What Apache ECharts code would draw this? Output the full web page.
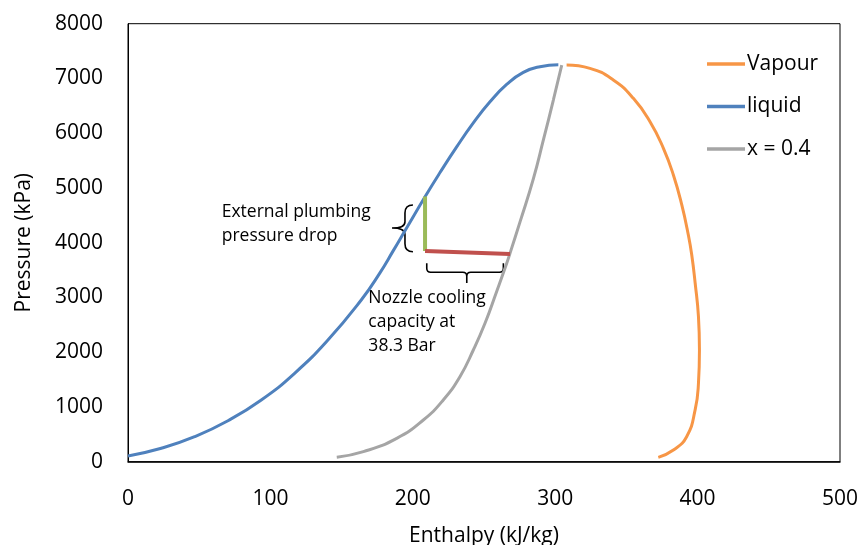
<!DOCTYPE html>
<html>
<head>
<meta charset="utf-8">
<script src="https://cdn.jsdelivr.net/npm/echarts@6/dist/echarts.min.js"></script>
<style>
  html, body { margin: 0; padding: 0; background: #fff; }
  #chart { width: 863px; height: 545px; }
</style>
</head>
<body>
<div id="chart"></div>
<script>
// Saturation dome of the refrigerant on a pressure–enthalpy plane
// [enthalpy kJ/kg, pressure kPa]
const vapourCurve = [
  [308, 7245], [324.4, 7185], [340.8, 6972], [354.9, 6637], [366.6, 6210],
  [376, 5724], [383, 5237], [388.9, 4689], [393.5, 4141], [395.9, 3775],
  [398.3, 3259], [400.6, 2649], [401.3, 2040], [400.6, 1432], [398.3, 950],
  [392.3, 457], [383, 214], [372.4, 80]
];
const liquidCurve = [
  [0, 104], [23.4, 245], [46.8, 457], [70.2, 749], [93.6, 1127], [117, 1615],
  [140.4, 2223], [163.8, 2954], [176.7, 3440], [186.3, 3855], [194.5, 4218],
  [208.6, 4840], [219.1, 5281], [230.8, 5749], [242.5, 6188], [254.2, 6574],
  [265.9, 6890], [277.6, 7112], [289.3, 7215], [302.2, 7250]
];
const qualityCurve = [
  [146.6, 80], [165.3, 183], [188.7, 427], [207.4, 762], [221.4, 1127],
  [233.1, 1553], [242.5, 2040], [250.7, 2528], [258.9, 3110], [265.9, 3620],
  [268.3, 3810], [275.3, 4380], [284.6, 5160], [291.7, 5876], [298.7, 6606],
  [304.6, 7245]
];

// Process lines: pressure drop in the plumbing, then evaporation in the nozzle
const plumbingDrop = [[208.6, 3848], [208.6, 4844]];
const nozzleCooling = [[208.6, 3848], [268.3, 3794]];

// Brace annotations (data space)
const leftBrace = { end: 200.1, spine: 194.5, tip: 185.4, top: 4689, mid: 4268, bottom: 3836 };
const bottomBrace = { end: 3624, spine: 3459, tip: 3264, left: 209.8, mid: 237.9, right: 263.6 };

const notes = [
  { h: 65.8, p: 4780, text: 'External plumbing\npressure drop' },
  { h: 168.8, p: 3205, text: 'Nozzle cooling\ncapacity at\n38.3 Bar' }
];

const seriesNames = ['Vapour', 'liquid', 'x = 0.4'];
const xTicks = { min: 0, max: 500, interval: 100 };
const yTicks = { min: 0, max: 8000, interval: 1000 };

const FONT = '"Open Sans", "Noto Sans", sans-serif';

function leftBracePath(api) {
  const b = leftBrace;
  const e = api.coord([b.end, b.top]);
  const s = api.coord([b.spine, b.mid]);
  const t = api.coord([b.tip, b.mid]);
  const eb = api.coord([b.end, b.bottom]);
  const xs = s[0], r = e[0] - xs;
  const yt = e[1], ym = s[1], yb = eb[1];
  return 'M' + e[0] + ' ' + yt +
    ' Q' + xs + ' ' + yt + ' ' + xs + ' ' + (yt + r) +
    ' L' + xs + ' ' + (ym - r * 0.8) +
    ' Q' + xs + ' ' + ym + ' ' + t[0] + ' ' + ym +
    ' Q' + xs + ' ' + ym + ' ' + xs + ' ' + (ym + r * 0.8) +
    ' L' + xs + ' ' + (yb - r) +
    ' Q' + xs + ' ' + yb + ' ' + e[0] + ' ' + yb;
}

function bottomBracePath(api) {
  const b = bottomBrace;
  const l = api.coord([b.left, b.end]);
  const m = api.coord([b.mid, b.spine]);
  const t = api.coord([b.mid, b.tip]);
  const rr = api.coord([b.right, b.end]);
  const ys = m[1], r = 4;
  return 'M' + l[0] + ' ' + l[1] +
    ' L' + l[0] + ' ' + (ys - r) +
    ' Q' + l[0] + ' ' + ys + ' ' + (l[0] + r) + ' ' + ys +
    ' L' + (m[0] - r) + ' ' + ys +
    ' Q' + m[0] + ' ' + ys + ' ' + m[0] + ' ' + (ys + r) +
    ' L' + t[0] + ' ' + t[1] +
    ' M' + m[0] + ' ' + (ys + r) +
    ' Q' + m[0] + ' ' + ys + ' ' + (m[0] + r) + ' ' + ys +
    ' L' + (rr[0] - r) + ' ' + ys +
    ' Q' + rr[0] + ' ' + ys + ' ' + rr[0] + ' ' + (ys - r) +
    ' L' + rr[0] + ' ' + rr[1];
}

const chart = echarts.init(document.getElementById('chart'), null, { renderer: 'canvas' });

const curveStyle = (color) => ({ color: color, width: 3 });
const plainNumber = (v) => String(v);

chart.setOption({
  animation: false,
  backgroundColor: '#fff',
  textStyle: { fontFamily: FONT },
  grid: {
    left: 128, right: 23, top: 23.7, bottom: 83.3,
    containLabel: false,
    outerBoundsMode: 'none',
    show: true, borderColor: '#000', borderWidth: 1, backgroundColor: 'transparent'
  },
  legend: {
    data: seriesNames,
    orient: 'vertical',
    left: 702,
    top: 47,
    icon: 'rect',
    itemWidth: 38,
    itemHeight: 3.5,
    itemGap: 18.5,
    textStyle: { fontSize: 21, color: '#000', fontFamily: FONT, lineHeight: 24, padding: [0, 0, 0, -3] }
  },
  xAxis: {
    type: 'value',
    min: xTicks.min, max: xTicks.max, interval: xTicks.interval,
    name: 'Enthalpy (kJ/kg)',
    nameLocation: 'middle',
    nameGap: 64,
    nameTextStyle: { fontSize: 21, color: '#000', fontFamily: FONT },
    axisLine: { show: true, lineStyle: { color: '#000', width: 1.5 } },
    axisTick: { show: false },
    splitLine: { show: false },
    axisLabel: { fontSize: 21, color: '#000', margin: 27, fontFamily: FONT, formatter: plainNumber }
  },
  yAxis: {
    type: 'value',
    min: yTicks.min, max: yTicks.max, interval: yTicks.interval,
    name: 'Pressure (kPa)',
    nameLocation: 'middle',
    nameGap: 93,
    nameTextStyle: { fontSize: 21, color: '#000', fontFamily: FONT },
    axisLine: { show: true, lineStyle: { color: '#000', width: 1 } },
    axisTick: { show: false },
    splitLine: { show: false },
    axisLabel: { fontSize: 21, color: '#000', margin: 25, fontFamily: FONT, formatter: plainNumber }
  },
  series: [
    {
      name: 'Vapour', type: 'line', data: vapourCurve, smooth: 0.5,
      symbol: 'none', lineStyle: curveStyle('#F79646'), itemStyle: { color: '#F79646' }
    },
    {
      name: 'liquid', type: 'line', data: liquidCurve, smooth: 0.5,
      symbol: 'none', lineStyle: curveStyle('#4F81BD'), itemStyle: { color: '#4F81BD' }
    },
    {
      name: 'x = 0.4', type: 'line', data: qualityCurve, smooth: 0.5,
      symbol: 'none', lineStyle: curveStyle('#A5A5A5'), itemStyle: { color: '#A5A5A5' }
    },
    {
      name: 'plumbing drop', type: 'line', data: plumbingDrop, symbol: 'none',
      lineStyle: { color: '#9BBB59', width: 4 }, silent: true
    },
    {
      name: 'nozzle cooling', type: 'line', data: nozzleCooling, symbol: 'none',
      lineStyle: { color: '#C0504D', width: 4 }, silent: true
    },
    {
      name: 'braces', type: 'custom', silent: true, data: [[0, 0]],
      renderItem: function (params, api) {
        return {
          type: 'group',
          children: [
            { type: 'path', shape: { pathData: leftBracePath(api) },
              style: { stroke: '#000', fill: null, lineWidth: 1.6 } },
            { type: 'path', shape: { pathData: bottomBracePath(api) },
              style: { stroke: '#000', fill: null, lineWidth: 1.6 } }
          ]
        };
      }
    },
    {
      name: 'notes', type: 'custom', silent: true,
      data: notes.map(n => [n.h, n.p]),
      renderItem: function (params, api) {
        const pt = api.coord([api.value(0), api.value(1)]);
        return {
          type: 'text',
          style: {
            text: notes[params.dataIndex].text,
            x: pt[0], y: pt[1],
            fill: '#000',
            fontSize: 17.5,
            fontFamily: FONT,
            lineHeight: 24,
            align: 'left',
            verticalAlign: 'top'
          }
        };
      }
    }
  ]
});
</script>
</body>
</html>
